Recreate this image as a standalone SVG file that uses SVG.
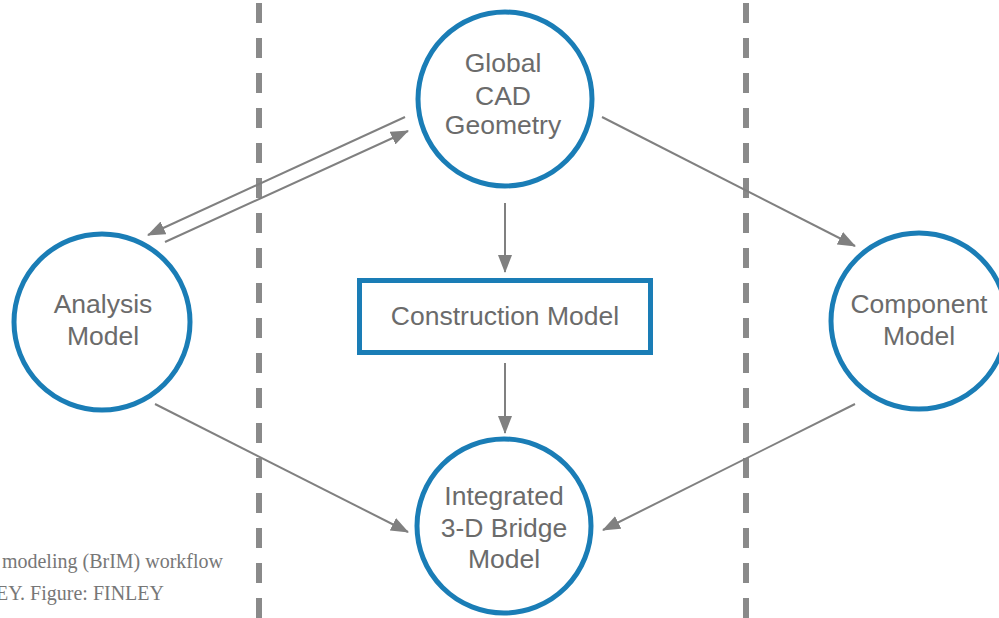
<svg xmlns="http://www.w3.org/2000/svg" width="999" height="618" viewBox="0 0 999 618">
<defs>
<style>
.node circle{fill:#fff;stroke:#1a7db6;stroke-width:5}
.node rect{fill:#fff;stroke:#1a7db6;stroke-width:5}
.lbl{font-family:"Liberation Sans",Arial,sans-serif;font-size:26.5px;fill:#6b6b6b;text-anchor:middle}
.div{stroke:#8a8a8a;stroke-width:6;stroke-dasharray:20 15;fill:none}
.conn line{stroke:#808080;stroke-width:2;fill:none;marker-end:url(#ah)}
.cap{font-family:"Liberation Serif","Times New Roman",serif;font-size:20px;fill:#777;text-anchor:end}
</style>
<marker id="ah" markerUnits="userSpaceOnUse" markerWidth="18" markerHeight="14" viewBox="0 0 18 14" refX="17" refY="7" orient="auto">
<path d="M0,0 L18,7 L0,14 Z" fill="#808080"/>
</marker>
</defs>
<rect width="999" height="618" fill="#fff"/>
<g id="dividers">
<line class="div" x1="259" y1="3" x2="259" y2="618"/>
<line class="div" x1="746" y1="3" x2="746" y2="618"/>
</g>
<g id="caption">
<text class="cap" x="223" y="568">modeling (BrIM) workflow</text>
<text class="cap" x="164" y="600">EY. Figure: FINLEY</text>
</g>
<g class="conn" id="connectors">
<line x1="405" y1="117" x2="148" y2="235"/>
<line x1="165" y1="242" x2="408" y2="131"/>
<line x1="602" y1="117" x2="855" y2="246"/>
<line x1="505" y1="203" x2="505" y2="272"/>
<line x1="505" y1="363" x2="505" y2="433"/>
<line x1="155" y1="404" x2="408" y2="532"/>
<line x1="855" y1="404" x2="603" y2="530"/>
</g>
<g class="node" id="global">
<circle cx="505" cy="99" r="87"/>
<text class="lbl" x="503" y="72">Global</text>
<text class="lbl" x="503" y="105">CAD</text>
<text class="lbl" x="503" y="134">Geometry</text>
</g>
<g class="node" id="analysis">
<circle cx="102" cy="322" r="88"/>
<text class="lbl" x="103" y="313">Analysis</text>
<text class="lbl" x="103" y="345">Model</text>
</g>
<g class="node" id="component">
<circle cx="919" cy="321" r="88"/>
<text class="lbl" x="919" y="313">Component</text>
<text class="lbl" x="919" y="345">Model</text>
</g>
<g class="node" id="construction">
<rect x="359.5" y="280.5" width="291" height="72"/>
<text class="lbl" x="505" y="325">Construction Model</text>
</g>
<g class="node" id="integrated">
<circle cx="504" cy="526" r="87"/>
<text class="lbl" x="504" y="505">Integrated</text>
<text class="lbl" x="504" y="537">3-D Bridge</text>
<text class="lbl" x="504" y="568">Model</text>
</g>
</svg>
